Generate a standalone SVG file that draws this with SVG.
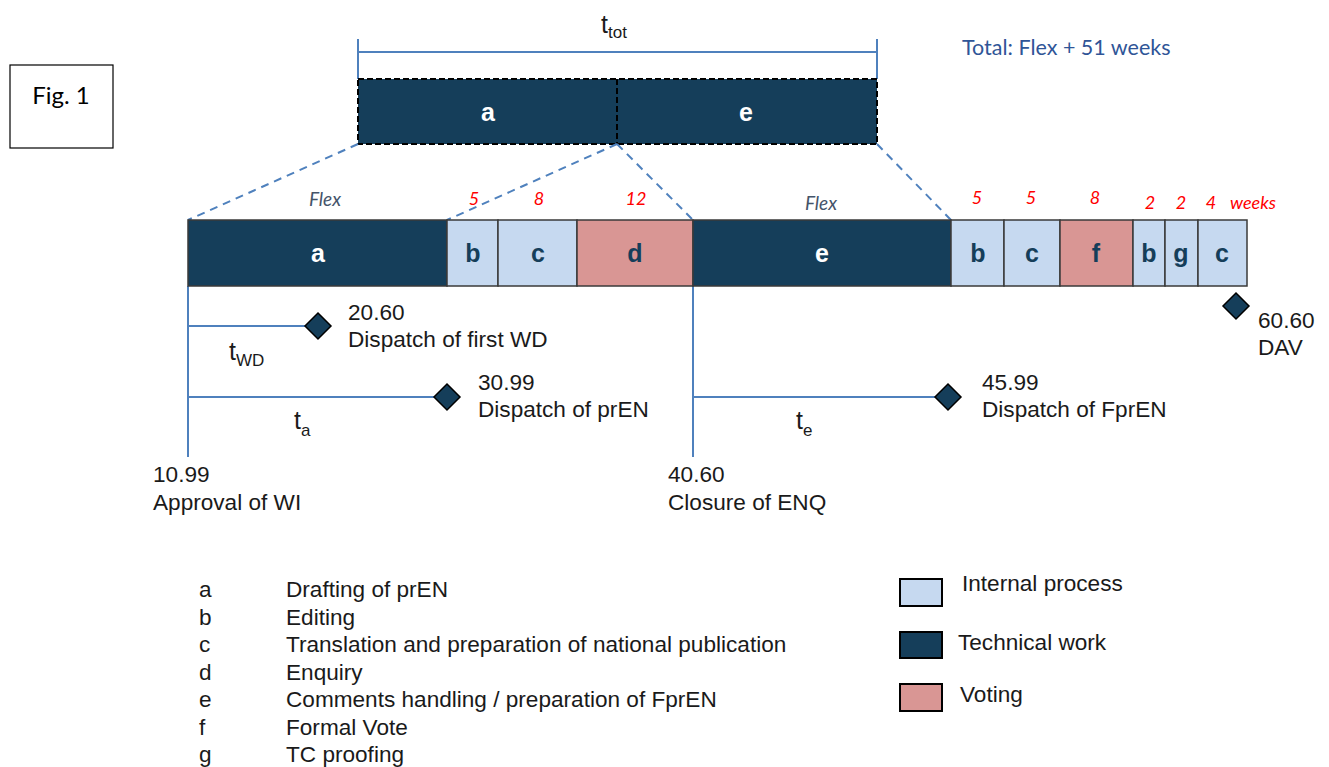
<svg xmlns="http://www.w3.org/2000/svg" width="1329" height="767" viewBox="0 0 1329 767">
<style>
.txt{font-family:"Liberation Sans",Arial,sans-serif;font-size:22.6px;fill:#1a1a1a}
.cal{font-family:Lato,"Liberation Sans",sans-serif}
.wk{font-family:Lato,"Liberation Sans",sans-serif;font-style:italic;font-size:18px;fill:#ff0000;text-anchor:middle}
.flex{font-family:Lato,"Liberation Sans",sans-serif;font-style:italic;font-size:19px;fill:#44546a;text-anchor:middle}
.dark{fill:#153e5a}
.light{fill:#c6d9f0}
.vote{fill:#d99694}
.cell{stroke:#3a3a3a;stroke-width:1.5}
.lw{font-family:"Liberation Sans",Arial,sans-serif;font-weight:bold;font-size:25px;fill:#ffffff;text-anchor:middle}
.ld{font-family:"Liberation Sans",Arial,sans-serif;font-weight:bold;font-size:25px;fill:#153e5a;text-anchor:middle}
.bl{stroke:#4f81bd;stroke-width:2;fill:none}
.dash{stroke:#4f81bd;stroke-width:2;fill:none;stroke-dasharray:8 6}
.dia{fill:#153e5a;stroke:#000;stroke-width:1.5}
.big{font-size:25px}
.sub{font-size:17px}
</style>

<g id="fig-label">
<rect x="10" y="65" width="103" height="83" fill="#fff" stroke="#000" stroke-width="1.2"/>
<text class="cal" x="61" y="104" font-size="24" text-anchor="middle" fill="#000">Fig. 1</text>
</g>

<g id="total-note">
<text class="cal" x="962" y="55" font-size="21.5" fill="#2f5597">Total: Flex + 51 weeks</text>
</g>

<g id="ttot-bracket">
<line class="bl" x1="358" y1="52" x2="877" y2="52"/>
<line class="bl" x1="358" y1="39" x2="358" y2="79"/>
<line class="bl" x1="877" y1="39" x2="877" y2="79"/>
<text class="txt big" x="601" y="33">t<tspan class="sub" dy="5">tot</tspan></text>
</g>

<g id="top-bar">
<rect x="358" y="79" width="519" height="65" class="dark" stroke="#000" stroke-width="2" stroke-dasharray="6 3"/>
<line x1="617" y1="79" x2="617" y2="144" stroke="#000" stroke-width="2" stroke-dasharray="6 3"/>
<text class="lw" x="488" y="121">a</text>
<text class="lw" x="746" y="121">e</text>
</g>

<g id="connectors">
<line class="dash" x1="358" y1="144" x2="188" y2="220"/>
<line class="dash" x1="617" y1="144" x2="447" y2="220"/>
<line class="dash" x1="617" y1="144" x2="693" y2="220"/>
<line class="dash" x1="877" y1="144" x2="951" y2="220"/>
<line class="bl" x1="188" y1="286" x2="188" y2="457"/>
<line class="bl" x1="693" y1="286" x2="693" y2="457"/>
<line class="bl" x1="188" y1="326" x2="318" y2="326"/>
<line class="bl" x1="188" y1="397" x2="447" y2="397"/>
<line class="bl" x1="693" y1="397" x2="948" y2="397"/>
</g>

<g id="week-labels">
<text class="flex" x="325" y="206">Flex</text>
<text class="wk" x="474" y="205">5</text>
<text class="wk" x="539" y="205">8</text>
<text class="wk" x="636" y="205">12</text>
<text class="flex" x="821" y="210">Flex</text>
<text class="wk" x="977" y="204">5</text>
<text class="wk" x="1031" y="204">5</text>
<text class="wk" x="1095" y="204">8</text>
<text class="wk" x="1150" y="209">2</text>
<text class="wk" x="1181" y="209">2</text>
<text class="wk" x="1211" y="209">4</text>
<text class="wk" x="1253" y="209">weeks</text>
</g>

<g id="main-bar">
<g id="seg-a1"><rect class="dark cell" x="188" y="220" width="259" height="66"/><text class="lw" x="318" y="262">a</text></g>
<g id="seg-b1"><rect class="light cell" x="447" y="220" width="51" height="66"/><text class="ld" x="473" y="262">b</text></g>
<g id="seg-c1"><rect class="light cell" x="498" y="220" width="79" height="66"/><text class="ld" x="538" y="262">c</text></g>
<g id="seg-d"><rect class="vote cell" x="577" y="220" width="116" height="66"/><text class="ld" x="635" y="262">d</text></g>
<g id="seg-e"><rect class="dark cell" x="693" y="220" width="258" height="66"/><text class="lw" x="822" y="262">e</text></g>
<g id="seg-b2"><rect class="light cell" x="951" y="220" width="53" height="66"/><text class="ld" x="978" y="262">b</text></g>
<g id="seg-c2"><rect class="light cell" x="1004" y="220" width="56" height="66"/><text class="ld" x="1032" y="262">c</text></g>
<g id="seg-f"><rect class="vote cell" x="1060" y="220" width="73" height="66"/><text class="ld" x="1096" y="262">f</text></g>
<g id="seg-b3"><rect class="light cell" x="1133" y="220" width="32" height="66"/><text class="ld" x="1149" y="262">b</text></g>
<g id="seg-g"><rect class="light cell" x="1165" y="220" width="33" height="66"/><text class="ld" x="1181" y="262">g</text></g>
<g id="seg-c3"><rect class="light cell" x="1198" y="220" width="49" height="66"/><text class="ld" x="1222" y="262">c</text></g>
</g>

<g id="m-wd">
<polygon class="dia" points="318,313 331,326 318,339 305,326"/>
<text class="txt" x="348" y="320">20.60</text>
<text class="txt" x="348" y="347">Dispatch of first WD</text>
</g>
<g id="m-pren">
<polygon class="dia" points="447,384 460,397 447,410 434,397"/>
<text class="txt" x="478" y="390">30.99</text>
<text class="txt" x="478" y="417">Dispatch of prEN</text>
</g>
<g id="m-fpren">
<polygon class="dia" points="948,384 961,397 948,410 935,397"/>
<text class="txt" x="982" y="390">45.99</text>
<text class="txt" x="982" y="417">Dispatch of FprEN</text>
</g>
<g id="m-dav">
<polygon class="dia" points="1236,293 1249,306 1236,319 1223,306"/>
<text class="txt" x="1258" y="328">60.60</text>
<text class="txt" x="1258" y="355">DAV</text>
</g>
<g id="m-wi">
<text class="txt" x="153" y="482">10.99</text>
<text class="txt" x="153" y="510">Approval of WI</text>
</g>
<g id="m-enq">
<text class="txt" x="668" y="482">40.60</text>
<text class="txt" x="668" y="510">Closure of ENQ</text>
</g>

<g id="durations">
<text class="txt big" x="229" y="360">t<tspan class="sub" dy="6">WD</tspan></text>
<text class="txt big" x="294" y="429">t<tspan class="sub" dy="7">a</tspan></text>
<text class="txt big" x="796" y="429">t<tspan class="sub" dy="7">e</tspan></text>
</g>

<g id="legend-letters">
<text class="txt" x="199" y="597">a</text><text class="txt" x="286" y="597">Drafting of prEN</text>
<text class="txt" x="199" y="624.5">b</text><text class="txt" x="286" y="624.5">Editing</text>
<text class="txt" x="199" y="652">c</text><text class="txt" x="286" y="652">Translation and preparation of national publication</text>
<text class="txt" x="199" y="679.5">d</text><text class="txt" x="286" y="679.5">Enquiry</text>
<text class="txt" x="199" y="707">e</text><text class="txt" x="286" y="707">Comments handling / preparation of FprEN</text>
<text class="txt" x="199" y="734.5">f</text><text class="txt" x="286" y="734.5">Formal Vote</text>
<text class="txt" x="199" y="762">g</text><text class="txt" x="286" y="762">TC proofing</text>
</g>

<g id="legend-colours">
<g id="lg-internal"><rect class="light" x="900" y="579" width="42" height="27" stroke="#000" stroke-width="2"/><text class="txt" x="962" y="591">Internal process</text></g>
<g id="lg-technical"><rect class="dark" x="900" y="632" width="42" height="26" stroke="#000" stroke-width="2"/><text class="txt" x="958" y="650">Technical work</text></g>
<g id="lg-voting"><rect class="vote" x="900" y="684" width="42" height="27" stroke="#000" stroke-width="2"/><text class="txt" x="960" y="702">Voting</text></g>
</g>
</svg>
